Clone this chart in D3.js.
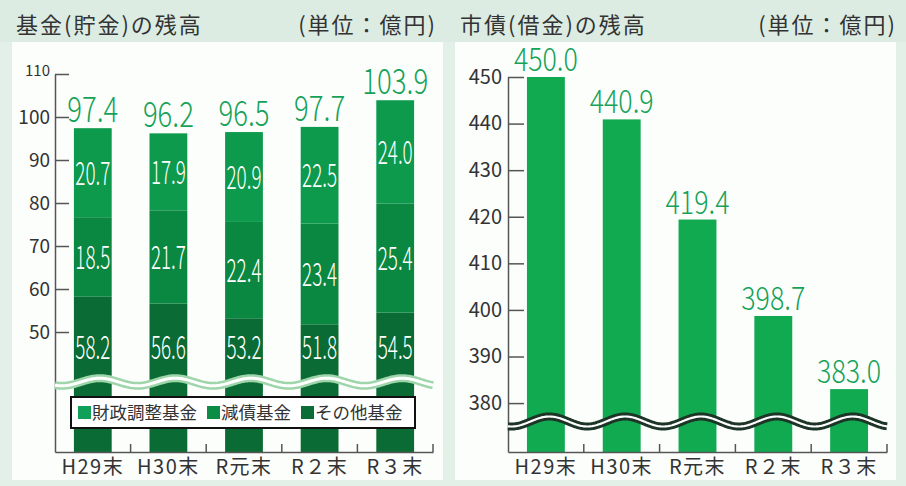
<!DOCTYPE html>
<html>
<head>
<meta charset="utf-8">
<script src="https://cdn.jsdelivr.net/npm/d3@7"></script>
<style>
  body { margin: 0; background: #e3f0e8; }
  svg { display: block; font-family: "Noto Sans CJK JP", "Noto Sans", sans-serif; }
</style>
</head>
<body>
<div id="chart"></div>
<script>
const W = 906, H = 486

// data
const categories = ["H29末", "H30末", "R元末", "R２末", "R３末"]
const zaiseiChosei = [20.7, 17.9, 20.9, 22.5, 24.0]   // 財政調整基金
const gensai = [18.5, 21.7, 22.4, 23.4, 25.4]          // 減債基金
const sonota = [58.2, 56.6, 53.2, 51.8, 54.5]          // その他基金
const fundTotals = [97.4, 96.2, 96.5, 97.7, 103.9]
const debt = [450.0, 440.9, 419.4, 398.7, 383.0]
const fundTicks = [50, 60, 70, 80, 90, 100, 110]
const debtTicks = [380, 390, 400, 410, 420, 430, 440, 450]
const seriesNames = ["財政調整基金", "減債基金", "その他基金"]

const colors = { zaisei: "#0d9a4d", gensai: "#0a8841", sonota: "#0a6c34" }
const legendColors = ["#10a05a", "#0b8d45", "#0a6d35"]
const labelGreen = "#15a258"
const debtGreen = "#12aa50"
const axisColor = "#555"
const textColor = "#333"

const svg = d3.select("#chart").append("svg")
  .attr("width", W).attr("height", H)

// background + panels
svg.append("rect").attr("width", W).attr("height", H).attr("fill", "#e3f0e8")
svg.append("rect").attr("x", 0).attr("y", 0).attr("width", W).attr("height", 42).attr("fill", "#dcece2")
svg.append("rect").attr("x", 12).attr("y", 42).attr("width", 431).attr("height", 438).attr("fill", "#fcfefc")
svg.append("rect").attr("x", 455).attr("y", 42).attr("width", 441).attr("height", 438).attr("fill", "#fcfefc")

// titles
function title(x, text, anchor) {
  svg.append("text").attr("x", x).attr("y", 33)
    .attr("text-anchor", anchor)
    .attr("font-size", 22).attr("letter-spacing", 2).attr("fill", textColor)
    .text(text)
}
title(16, "基金(貯金)の残高", "start")
title(437, "(単位：億円)", "end")
title(460, "市債(借金)の残高", "start")
title(897, "(単位：億円)", "end")

// condensed numbers: width per digit / per dot
function numLen(s, dw, pw) {
  let n = 0
  for (const c of s) n += (c === "." ? pw : dw)
  return n
}

function wave(g, x0, x1, cy, amp, peakX, period, outer, outerW, innerW) {
  const pts = d3.range(x0, x1 + 0.5, 1).map(px => [px, cy - amp * Math.cos(2 * Math.PI * (px - peakX) / period)])
  const line = d3.line()
  g.append("path").attr("d", line(pts)).attr("fill", "none").attr("stroke", outer).attr("stroke-width", outerW)
  g.append("path").attr("d", line(pts)).attr("fill", "none").attr("stroke", "#fff").attr("stroke-width", innerW)
}

// ---------- left chart: funds ----------
const L = { left: 55, right: 433, top: 74, bottom: 452 }
const gL = svg.append("g")

const xL = d3.scaleBand().domain(categories).range([L.left, L.right])
  .paddingInner(0.5).paddingOuter(0.25)
const yL = d3.scaleLinear().domain([22.1, 110]).range([L.bottom, L.top]).clamp(true)

const stackData = categories.map((c, i) => ({ cat: c, sonota: sonota[i], gensai: gensai[i], zaisei: zaiseiChosei[i] }))
const stack = d3.stack().keys(["sonota", "gensai", "zaisei"])(stackData)

gL.selectAll("g.layer")
  .data(stack)
  .join("g")
  .attr("fill", d => colors[d.key])
  .selectAll("rect")
  .data(d => d)
  .join("rect")
  .attr("x", d => xL(d.data.cat))
  .attr("y", d => yL(d[1]))
  .attr("width", xL.bandwidth())
  .attr("height", d => yL(d[0]) - yL(d[1]))

// inner labels
stack.forEach(layer => {
  gL.selectAll(null)
    .data(layer)
    .join("text")
    .attr("x", d => xL(d.data.cat) + xL.bandwidth() / 2)
    .attr("y", d => layer.key === "sonota" ? yL(46.5) + 12 : (yL(d[0]) + yL(d[1])) / 2 + 12)
    .attr("text-anchor", "middle")
    .attr("font-size", 33)
    .attr("font-weight", 300)
    .attr("fill", "#fff")
    .attr("textLength", d => numLen((d[1] - d[0]).toFixed(1), 10, 5))
    .attr("lengthAdjust", "spacingAndGlyphs")
    .text(d => (d[1] - d[0]).toFixed(1))
})

// totals
gL.selectAll("text.total")
  .data(fundTotals)
  .join("text")
  .attr("class", "total")
  .attr("x", (d, i) => xL(categories[i]) + xL.bandwidth() / 2)
  .attr("y", d => yL(d) - 6)
  .attr("text-anchor", "middle")
  .attr("font-size", 35)
  .attr("font-weight", 300)
  .attr("fill", labelGreen)
  .attr("textLength", d => numLen(d.toFixed(1), 15, 6))
  .attr("lengthAdjust", "spacingAndGlyphs")
  .text(d => d.toFixed(1))

// y axis
const yAxisL = gL.append("g")
  .attr("transform", `translate(${L.left},0)`)
  .call(d3.axisLeft(yL).tickValues(fundTicks).tickSize(-14).tickSizeOuter(0).tickPadding(5))
yAxisL.select(".domain").attr("stroke", axisColor).attr("stroke-width", 1.5)
yAxisL.selectAll(".tick line").attr("stroke", axisColor).attr("stroke-width", 1.5)
yAxisL.selectAll(".tick text").attr("font-size", 19).attr("fill", textColor)
  .attr("font-family", "Noto Sans CJK JP")
yAxisL.selectAll(".tick text").filter(d => d === 110).attr("font-size", 15).attr("dy", "0.1em")

// x axis
const xAxisL = gL.append("g")
  .attr("transform", `translate(0,${L.bottom})`)
  .call(d3.axisBottom(xL).tickSize(0).tickSizeOuter(0).tickPadding(8))
xAxisL.select(".domain").attr("stroke", axisColor).attr("stroke-width", 1.5)
xAxisL.selectAll(".tick text").attr("font-size", 20).attr("fill", textColor)
  .attr("letter-spacing", 1.5).attr("font-family", "Noto Sans CJK JP")
gL.selectAll("line.sep")
  .data(categories)
  .join("line")
  .attr("x1", d => xL(d) + xL.step() * 0.75)
  .attr("x2", d => xL(d) + xL.step() * 0.75)
  .attr("y1", L.bottom).attr("y2", L.bottom - 8)
  .attr("stroke", axisColor).attr("stroke-width", 1.5)

// wave
wave(gL, L.left, L.right, 382, 3.8, xL(categories[0]) + xL.bandwidth() / 2 + 7, xL.step(), "#9fd5ab", 8, 3)

// legend
const leg = gL.append("g")
leg.append("rect").attr("x", 71).attr("y", 397).attr("width", 344).attr("height", 31)
  .attr("fill", "#fff").attr("stroke", "#111").attr("stroke-width", 2)
let lx = 78
seriesNames.forEach((name, i) => {
  leg.append("rect").attr("x", lx).attr("y", 406).attr("width", 13).attr("height", 13).attr("fill", legendColors[i])
  const t = leg.append("text").attr("x", lx + 14).attr("y", 419)
    .attr("font-size", 17.5).attr("fill", textColor).text(name)
  lx += 14 + t.node().getComputedTextLength() + 10
})

// ---------- right chart: debt ----------
const R = { left: 508, right: 887, top: 77, bottom: 452 }
const gR = svg.append("g")

const xR = d3.scaleBand().domain(categories).range([R.left, R.right])
  .paddingInner(0.5).paddingOuter(0.25)
const yR = d3.scaleLinear().domain([369.5, 450]).range([R.bottom, R.top]).clamp(true)

gR.selectAll("rect.bar")
  .data(debt)
  .join("rect")
  .attr("class", "bar")
  .attr("x", (d, i) => xR(categories[i]))
  .attr("y", d => yR(d))
  .attr("width", xR.bandwidth())
  .attr("height", d => R.bottom - yR(d))
  .attr("fill", debtGreen)

gR.selectAll("text.val")
  .data(debt)
  .join("text")
  .attr("class", "val")
  .attr("x", (d, i) => xR(categories[i]) + xR.bandwidth() / 2)
  .attr("y", d => yR(d) - 6)
  .attr("text-anchor", "middle")
  .attr("font-size", 32)
  .attr("font-weight", 300)
  .attr("fill", labelGreen)
  .attr("textLength", d => numLen(d.toFixed(1), 14.5, 6))
  .attr("lengthAdjust", "spacingAndGlyphs")
  .text(d => d.toFixed(1))

const yAxisR = gR.append("g")
  .attr("transform", `translate(${R.left},0)`)
  .call(d3.axisLeft(yR).tickValues(debtTicks).tickSize(-16).tickSizeOuter(0).tickPadding(6))
yAxisR.select(".domain").attr("stroke", axisColor).attr("stroke-width", 1.5)
yAxisR.selectAll(".tick line").attr("stroke", axisColor).attr("stroke-width", 1.5)
yAxisR.selectAll(".tick text").attr("font-size", 20).attr("fill", textColor)
  .attr("font-family", "Noto Sans CJK JP")

const xAxisR = gR.append("g")
  .attr("transform", `translate(0,${R.bottom})`)
  .call(d3.axisBottom(xR).tickSize(0).tickSizeOuter(0).tickPadding(8))
xAxisR.select(".domain").attr("stroke", axisColor).attr("stroke-width", 1.5)
xAxisR.selectAll(".tick text").attr("font-size", 20).attr("fill", textColor)
  .attr("letter-spacing", 1.5).attr("font-family", "Noto Sans CJK JP")
gR.selectAll("line.sep")
  .data(categories)
  .join("line")
  .attr("x1", d => xR(d) + xR.step() * 0.75)
  .attr("x2", d => xR(d) + xR.step() * 0.75)
  .attr("y1", R.bottom).attr("y2", R.bottom - 8)
  .attr("stroke", axisColor).attr("stroke-width", 1.5)

wave(gR, R.left, R.right, 421.5, 5, xR(categories[0]) + xR.bandwidth() / 2 + 3.5, xR.step(), "#1d3527", 8, 2.2)
</script>
</body>
</html>
